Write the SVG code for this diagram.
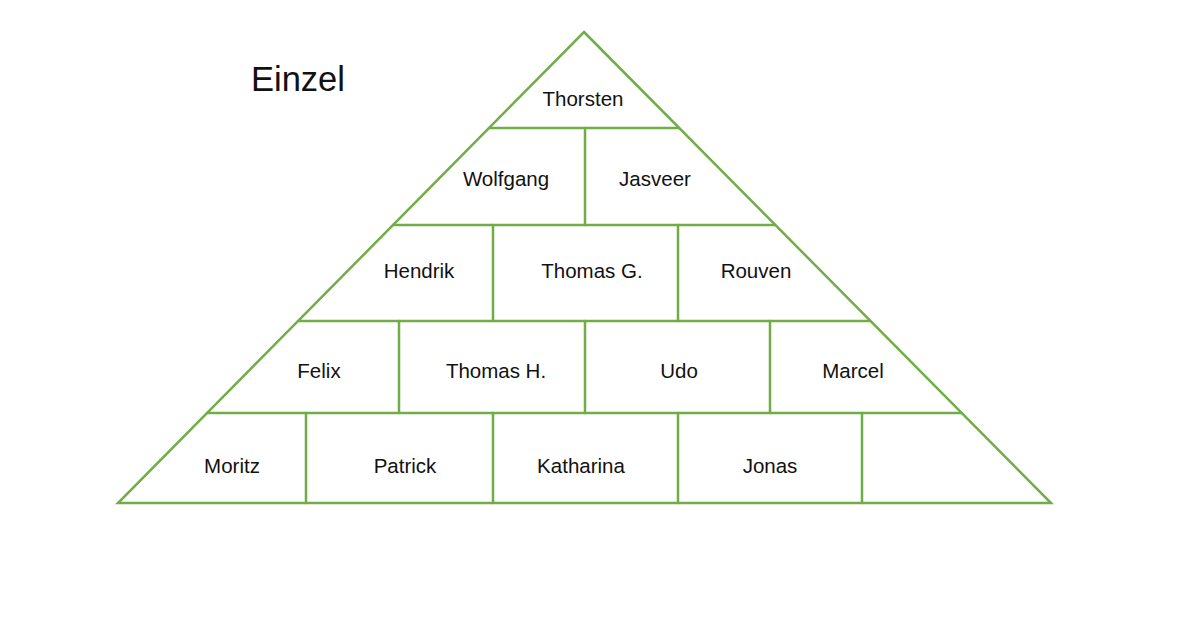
<svg xmlns="http://www.w3.org/2000/svg" width="1200" height="639" viewBox="0 0 1200 639">
<style>
.l{stroke:#70AD47;stroke-width:2.5;fill:none;stroke-linecap:round;stroke-linejoin:miter}
.t{font-family:"Liberation Sans",Arial,sans-serif;font-size:20.5px;fill:#111;text-anchor:middle}
.h{font-family:"Liberation Sans",Arial,sans-serif;font-size:34.5px;fill:#111}
</style>
<rect width="1200" height="639" fill="#fff"/>
<text class="h" x="251" y="91">Einzel</text>
<g id="connectors">
<polygon class="l" points="584,32 1051,503 118,503"/>
<line class="l" x1="489" y1="128" x2="679" y2="128"/>
<line class="l" x1="393" y1="225" x2="775" y2="225"/>
<line class="l" x1="298" y1="321" x2="870" y2="321"/>
<line class="l" x1="207" y1="413" x2="961" y2="413"/>
<line class="l" x1="585" y1="128" x2="585" y2="225"/>
<line class="l" x1="493" y1="225" x2="493" y2="321"/>
<line class="l" x1="678" y1="225" x2="678" y2="321"/>
<line class="l" x1="399" y1="321" x2="399" y2="413"/>
<line class="l" x1="585" y1="321" x2="585" y2="413"/>
<line class="l" x1="770" y1="321" x2="770" y2="413"/>
<line class="l" x1="306" y1="413" x2="306" y2="503"/>
<line class="l" x1="493" y1="413" x2="493" y2="503"/>
<line class="l" x1="678" y1="413" x2="678" y2="503"/>
<line class="l" x1="862" y1="413" x2="862" y2="503"/>
</g>
<g id="n-thorsten"><text class="t" x="583" y="106">Thorsten</text></g>
<g id="n-wolfgang"><text class="t" x="506" y="186">Wolfgang</text></g>
<g id="n-jasveer"><text class="t" x="655" y="186">Jasveer</text></g>
<g id="n-hendrik"><text class="t" x="419" y="278">Hendrik</text></g>
<g id="n-thomasg"><text class="t" x="592" y="278">Thomas G.</text></g>
<g id="n-rouven"><text class="t" x="756" y="278">Rouven</text></g>
<g id="n-felix"><text class="t" x="319" y="378">Felix</text></g>
<g id="n-thomash"><text class="t" x="496" y="378">Thomas H.</text></g>
<g id="n-udo"><text class="t" x="679" y="378">Udo</text></g>
<g id="n-marcel"><text class="t" x="853" y="378">Marcel</text></g>
<g id="n-moritz"><text class="t" x="232" y="473">Moritz</text></g>
<g id="n-patrick"><text class="t" x="405" y="473">Patrick</text></g>
<g id="n-katharina"><text class="t" x="581" y="473">Katharina</text></g>
<g id="n-jonas"><text class="t" x="770" y="473">Jonas</text></g>
</svg>
